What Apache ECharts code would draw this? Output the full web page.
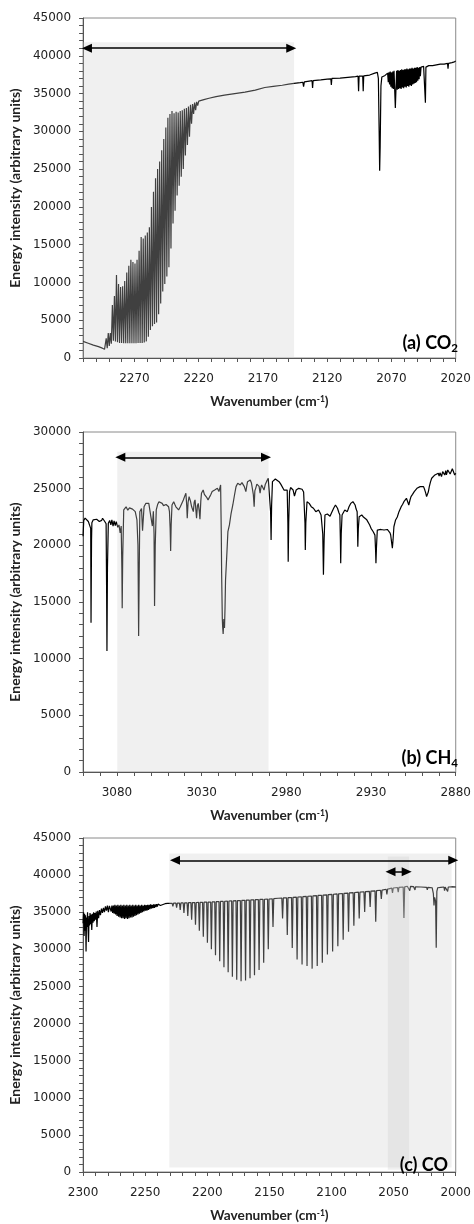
<!DOCTYPE html>
<html><head><meta charset="utf-8">
<script src="https://cdn.jsdelivr.net/npm/echarts@6/dist/echarts.min.js"></script>
<style>html,body{margin:0;padding:0;background:#fff}#c{width:474px;height:1224px}</style>
</head><body><div id="c"></div>
<script>
// ---------- (a) CO2 spectrum [wavenumber, intensity] ----------
const co2Spectrum = [
[2310,2200],[2306,1950],[2302,1700],[2298,1500],[2295,1300],[2293.3,1150],
[2292.0,2600],[2291.2,1300],[2290.4,3300],[2289.6,1600],[2288.8,3300],[2288.0,1900],
[2287.2,7000],[2286.4,2300],[2285.6,8200],[2284.8,2200],[2284.0,11000],[2283.2,2100],
[2282.4,9800],[2281.6,2000],[2280.8,9400],[2280.0,2000],[2279.2,9500],[2278.4,1950],
[2277.6,10200],[2276.8,1950],[2276.0,11300],[2275.2,1950],[2274.4,12200],[2273.6,1950],
[2272.8,13000],[2272.0,1950],[2271.2,12700],[2270.4,1950],[2269.6,12500],[2268.8,1950],
[2268.0,13000],[2267.2,2000],[2266.4,14200],[2265.6,2000],[2264.8,16000],[2264.0,2000],
[2263.2,15800],[2262.4,2050],[2261.6,16200],[2260.8,2200],[2260.0,16600],[2259.2,2800],
[2258.4,17300],[2257.6,3700],[2256.8,20000],[2256.0,4200],[2255.2,22000],[2254.4,4500],
[2253.6,23800],[2252.8,4700],[2252.0,25000],[2251.2,5800],[2250.4,26000],[2249.6,7200],
[2248.8,27500],[2248.0,8800],[2247.2,29000],[2246.4,9800],[2245.6,30500],[2244.8,10800],
[2244.0,31800],[2243.2,12000],[2242.4,32300],[2241.6,14500],[2240.8,32700],[2240.0,17800],
[2239.2,32400],[2238.4,19500],[2237.6,32600],[2236.8,21500],[2236.0,32500],[2235.2,22800],
[2234.4,32700],[2233.6,24000],[2232.8,32800],[2232.0,25000],[2231.2,33000],[2230.4,26800],
[2229.6,33100],[2228.8,28200],[2228.0,33300],[2227.2,29300],[2226.4,33500],[2225.6,31000],
[2224.8,33600],[2224.0,32300],[2223.2,33800],[2222.4,32800],[2221.6,33900],[2220.8,33400],
[2220.0,34000],[2216,34200],[2212,34380],[2206.5,34600],[2200,34800],[2192,35000],[2184,35200],
[2176,35450],[2168.6,35800],[2162,35950],[2155,36100],[2150,36250],[2145.8,36350],[2141,36450],
[2139,36500],[2138.4,35900],[2137.8,36550],[2134,36650],[2131.8,36700],[2131.4,35750],[2131.0,36700],
[2125,36800],[2120,36900],[2117.2,36950],[2116.8,36150],[2116.4,37000],[2110,37050],[2104,37150],
[2098,37250],[2096,37300],[2095.6,35300],[2095.2,37300],[2092.4,37320],[2092.0,35300],[2091.6,37350],
[2087,37450],[2083,37700],[2081,37800],[2080.2,37000],[2079.6,30000],[2079.2,24800],[2078.8,28000],
[2078.2,36000],[2077.5,37200],[2075,37400],[2073,37700],
[2072.5,36500],[2072,37800],[2071.5,36200],[2071,37900],[2070.5,35900],[2070,37800],[2069.5,35700],
[2069,37900],[2068.5,35600],[2068,38000],[2067.5,35500],[2067,33100],[2066.5,35600],[2066,38000],
[2065.5,35500],[2065,38100],[2064.5,35600],[2064,38000],[2063.5,35700],[2063,38100],[2062.5,35600],
[2062,38200],[2061.5,35800],[2061,38100],[2060.5,35700],[2060,38200],[2059.5,35900],[2059,38200],
[2058.5,35800],[2058,38300],[2057.5,36000],[2057,38200],[2056.5,35900],[2056,38300],[2055.5,36100],
[2055,38300],[2054.5,36000],[2054,38400],[2053.5,36200],[2053,38300],[2052.5,36300],[2052,38400],
[2051.5,36400],[2051,38400],[2050.5,36500],[2050,38500],[2049.5,36700],[2049,38400],[2048.5,36900],
[2048,38500],[2047.5,37300],[2047,38500],[2046,38400],[2045,38600],[2044,38500],[2043.6,33800],
[2043.2,38500],[2041,38700],[2038,38700],[2035,38800],[2032,38900],[2029,38900],[2026.4,39000],
[2026,38300],[2025.6,39000],[2023,39100],[2021,39200],[2020,39300]
];

// ---------- (b) CH4 spectrum ----------
const ch4Spectrum = [
[3100,20800],[3099.6,22200],[3098.8,22400],[3097.9,22350],[3096.9,22100],[3095.9,22240],[3095.5,21500],
[3095.3,13170],[3095.0,20500],[3094.8,22000],[3094.0,22250],[3093.0,22150],[3092.0,22300],[3091.1,22390],
[3090.4,22100],[3089.7,21950],[3089.0,22200],[3088.5,22390],[3087.8,22250],[3087.2,22100],[3086.4,21900],
[3086.1,16000],[3085.9,10680],[3085.6,18000],[3085.1,21950],[3084.3,22200],[3083.6,21800],[3083.0,22240],
[3082.3,21700],[3081.7,22150],[3081.0,21750],[3080.4,22100],[3079.5,21590],[3078.8,21800],[3078.1,21090],
[3077.5,21700],[3077.1,18000],[3076.9,14440],[3076.6,19000],[3076.0,23120],[3075.2,23250],[3074.6,23400],
[3073.6,23100],[3072.6,23300],[3071.5,23450],[3070.8,23200],[3069.9,23300],[3069.2,22970],[3068.2,22240],
[3067.6,20000],[3067.2,12000],[3066.9,17000],[3066.5,22970],[3065.5,23250],[3064.9,21290],[3064.0,23400],
[3063.0,23700],[3062.0,23850],[3061.2,23700],[3060.6,23560],[3059.1,21700],[3058.5,23000],[3058.1,21000],
[3057.8,14650],[3057.4,20000],[3056.8,23120],[3056.0,23600],[3055.2,23850],[3054.2,23700],[3053.3,23700],
[3052.5,23500],[3051.7,23400],[3051.0,23600],[3050.4,23700],[3049.5,23400],[3049.0,22970],[3048.6,21500],
[3048.3,19500],[3048.0,21800],[3047.5,23560],[3046.5,23850],[3045.8,23600],[3045.2,23400],[3044.4,23300],
[3043.6,23120],[3042.6,23400],[3041.7,23560],[3040.8,24000],[3040.1,24300],[3039.3,24600],[3038.8,23500],
[3038.5,22390],[3038.0,23800],[3037.4,24300],[3036.6,23900],[3035.9,23400],[3034.9,22970],[3034.4,23800],
[3033.9,24010],[3033.0,22390],[3032.5,23500],[3032.0,23700],[3031.4,23000],[3031.0,22300],[3030.5,23900],
[3030.1,24600],[3029.1,24880],[3028.4,24500],[3027.7,24450],[3026.9,24200],[3026.2,24010],[3025.2,24300],
[3024.5,24500],[3023.8,24740],[3023.0,24800],[3022.3,24880],[3021.5,24950],[3020.7,25030],[3019.8,24740],
[3019.2,25100],[3018.8,25330],[3018.4,21000],[3018.2,17530],[3017.8,13500],[3017.6,12820],[3017.3,12180],
[3016.9,13500],[3016.5,12700],[3016.2,14500],[3015.9,16940],[3015.1,19300],[3014.5,21200],[3013.6,21800],
[3012.6,22830],[3011.6,23560],[3010.6,24440],[3009.7,25180],[3008.7,25470],[3007.9,25300],[3007.2,25330],
[3006.2,25530],[3005.5,25400],[3004.8,25180],[3003.9,24740],[3003.3,25300],[3002.9,25620],[3002.1,25700],
[3001.3,25770],[3000.6,25500],[3000.0,25330],[2999.5,24500],[2999.0,23410],[2998.6,24800],[2998.1,25030],
[2997.4,25400],[2996.7,25470],[2996.1,25200],[2995.5,24600],[2995.0,25100],[2994.6,25330],[2993.9,25200],
[2993.2,24880],[2992.4,25400],[2991.7,25620],[2990.7,25920],[2990.2,25850],[2989.7,25770],[2989.3,23000],
[2989.0,20470],[2988.7,23500],[2988.2,25620],[2987.3,25700],[2986.5,25850],[2985.4,25700],[2984.3,25620],
[2983.3,25400],[2982.4,25330],[2981.4,24880],[2980.4,25030],[2979.5,24880],[2979.1,22000],[2978.9,18560],
[2978.6,22000],[2978.1,24740],[2977.5,25100],[2976.9,25270],[2976.0,24880],[2975.2,24350],[2974.2,24880],
[2973.5,25000],[2972.7,25030],[2971.7,24950],[2970.7,24950],[2969.8,24700],[2969.4,24600],[2969.0,22000],
[2968.8,19590],[2968.5,22000],[2967.8,23850],[2966.5,23700],[2965.3,23410],[2964.0,23270],[2962.6,22970],
[2961.8,23000],[2961.0,23120],[2960.2,22900],[2959.5,22680],[2958.5,21000],[2958.1,17400],[2957.7,20500],
[2957.2,22680],[2956.5,22800],[2955.8,22760],[2955.0,22600],[2954.2,22560],[2953.5,22800],[2952.9,22970],
[2952.0,23300],[2951.0,23560],[2950.4,23500],[2949.8,23270],[2949.0,22900],[2948.4,22680],[2948.1,20500],
[2947.9,18420],[2947.6,21000],[2947.1,22680],[2946.3,22900],[2945.5,23120],[2944.8,23000],[2944.0,22970],
[2943.0,23400],[2942.0,23700],[2940.7,23850],[2939.4,23560],[2938.8,23200],[2938.2,22970],[2938.0,21500],
[2937.8,19880],[2937.5,21500],[2937.0,22530],[2936.2,22600],[2935.5,22680],[2934.5,22500],[2933.5,22390],
[2932.5,22250],[2931.6,22100],[2930.8,21800],[2930.0,21500],[2928.7,21200],[2927.7,20900],[2927.3,19500],
[2927.1,18420],[2926.8,19800],[2926.3,21350],[2925.2,21500],[2924.2,21400],[2923.3,21420],[2922.3,21350],
[2921.3,21500],[2920.4,21400],[2919.4,21350],[2918.8,21100],[2918.4,20910],[2917.8,20200],[2917.4,19740],
[2917.0,20500],[2916.5,21640],[2915.5,22240],[2914.5,22500],[2913.5,22970],[2912.2,23410],[2911.4,23600],
[2910.6,23850],[2909.8,24000],[2909.1,24150],[2908.3,24000],[2907.7,23560],[2907.0,24000],[2906.4,24300],
[2905.5,24500],[2904.5,24740],[2903.7,24900],[2902.9,25030],[2902.0,25100],[2901.0,25180],[2900.0,25150],
[2899.0,25180],[2898.3,24900],[2897.7,24600],[2897.2,24300],[2896.7,24150],[2896.2,24700],[2895.6,25180],
[2894.9,25600],[2894.2,25920],[2893.3,26050],[2892.3,26210],[2891.3,26300],[2890.3,26360],[2889.8,26100],
[2889.3,26400],[2888.4,26070],[2887.7,26500],[2887.0,26420],[2886.5,26200],[2885.9,26600],[2885.5,26210],
[2884.7,26650],[2883.9,26650],[2883.3,26300],[2882.6,26270],[2882.0,26750],[2881.2,26800],[2880.6,26200],
[2880.0,26360]
];

// ---------- (c) CO spectrum ----------
const coSpectrum = [
[2300,33500],[2299.6,35000],[2299.2,31800],[2298.8,34800],[2298.4,32500],[2298.0,34600],[2297.6,29700],
[2297.2,34300],[2296.8,33000],[2296.4,35000],[2296.0,32800],[2295.6,31000],[2295.2,34500],[2294.8,33200],
[2294.4,34900],[2294.0,33400],[2293.5,34700],[2293.0,32600],[2292.5,34800],[2292.0,33600],[2291.5,35000],
[2291.0,33800],[2290.5,34900],[2290.0,34000],[2289.4,35100],[2288.8,33000],[2288.2,35200],[2287.5,34200],
[2286.8,35300],[2286.0,34600],[2285.2,35500],[2284.4,34900],[2283.6,35600],[2282.8,35000],[2282.0,35800],
[2281.2,35200],[2280.4,35900],[2279.6,35000],[2278.8,35850],
[2278,35800],[2277.4,35100],[2276.8,35900],[2276.2,34900],[2275.6,35900],[2275,34800],[2274.4,36000],
[2273.8,34700],[2273.2,35900],[2272.6,34500],[2272,36000],[2271.4,34400],[2270.8,35900],[2270.2,34300],
[2269.6,36000],[2269,34200],[2268.4,35900],[2267.8,34200],[2267.2,36000],[2266.6,34100],[2266,35900],
[2265.4,34200],[2264.8,36000],[2264.2,34100],[2263.6,35900],[2263,34200],[2262.4,36000],[2261.8,34300],
[2261.2,35900],[2260.6,34300],[2260,36000],[2259.4,34400],[2258.8,35900],[2258.2,34500],[2257.6,36000],
[2257,34600],[2256.4,35900],[2255.8,34700],[2255.2,36000],[2254.6,34800],[2254,35900],[2253.4,34900],
[2252.8,36000],[2252.2,35000],[2251.6,35900],[2251,35100],[2250.4,36000],[2249.8,35200],[2249.2,35950],
[2248.6,35200],[2248,36000],[2247.4,35300],[2246.8,36000],[2246.2,35400],[2245.6,36050],[2245,35500],
[2244.4,36000],[2243.8,35550],[2243.2,36050],[2242.6,35600],[2242,36050],[2241.4,35700],[2240.8,36100],
[2240.2,35750],[2239.6,36100],[2239,35850],[2238.4,36100],[2237.8,35900],[2237,36100],[2234,36150],[2232,36200],
[2231.2,36200],[2230.6,35950],[2230.0,36200],[2228.3,36200],[2227.7,35800],[2227.1,36220],
[2225.3,36220],[2224.7,35600],[2224.1,36230],[2222.4,36240],[2221.8,35300],[2221.2,36250],
[2219.4,36250],[2218.8,34900],[2218.2,36260],[2216.3,36270],[2215.7,34500],[2215.1,36280],
[2213.2,36290],[2212.6,34000],[2212.0,36300],[2210.1,36300],[2209.5,33300],[2208.9,36310],
[2207.0,36320],[2206.4,32500],[2205.8,36330],[2203.8,36340],[2203.2,31700],[2202.6,36350],
[2200.5,36360],[2199.9,30900],[2199.3,36370],[2197.3,36380],[2196.7,30000],[2196.1,36390],
[2194.0,36400],[2193.4,29200],[2192.8,36420],[2190.6,36430],[2190.0,28400],[2189.4,36450],
[2187.2,36460],[2186.6,27600],[2186.0,36480],[2183.8,36490],[2183.2,26900],[2182.6,36510],
[2180.4,36520],[2179.8,26300],[2179.2,36540],[2176.9,36550],[2176.3,25900],[2175.7,36570],
[2173.4,36580],[2172.8,25700],[2172.2,36600],[2169.8,36610],[2169.2,25800],[2168.6,36630],
[2166.2,36640],[2165.6,26100],[2165.0,36660],[2162.6,36670],[2162.0,26500],[2161.4,36690],
[2158.9,36700],[2158.3,27200],[2157.7,36720],[2155.2,36730],[2154.6,28200],[2154.0,36750],
[2151.5,36760],[2150.9,30000],[2150.3,36780],[2147.7,36800],[2147.1,33000],[2146.5,36820],
[2143,36880],
[2140.0,36900],[2139.4,34150],[2138.8,36920],[2136.2,36940],[2135.6,31940],[2135.0,36960],
[2132.2,36980],[2131.6,30180],[2131.0,37000],[2128.3,37030],[2127.7,28630],[2127.1,37050],
[2124.3,37080],[2123.7,27970],[2123.1,37100],[2120.3,37130],[2119.7,27750],[2119.1,37150],
[2116.2,37180],[2115.6,27400],[2115.0,37200],[2112.1,37240],[2111.5,27750],[2110.9,37260],
[2108.0,37290],[2107.4,28190],[2106.8,37310],[2103.9,37350],[2103.3,29290],[2102.7,37370],
[2099.7,37400],[2099.1,29700],[2098.5,37420],[2095.5,37460],[2094.9,30400],[2094.3,37480],
[2091.2,37520],[2090.6,31280],[2090.0,37540],[2086.9,37580],[2086.3,32380],[2085.7,37600],
[2082.6,37640],[2082.0,33180],[2081.4,37660],[2078.3,37700],[2077.7,34150],[2077.1,37720],
[2073.9,37760],[2073.3,35030],[2072.7,37780],[2069.5,37820],[2068.9,35700],[2068.3,37840],
[2065.0,37880],[2064.4,33710],[2063.8,37900],[2060.5,37960],[2059.9,36790],[2059.3,37980],
[2056.0,38100],[2055.4,37400],[2054.8,38120],[2051.5,38250],[2050.9,37600],[2050.3,38260],
[2046.9,38330],[2046.3,37700],[2045.7,38350],[2042.3,38400],[2041.7,34240],[2041.1,38420],
[2039,38500],[2037.6,38480],[2037.0,37900],[2036.4,38470],[2034,38450],[2033.2,38400],[2032.8,38000],
[2032.4,38420],[2028,38400],[2023.4,38350],[2022.9,38000],[2022.4,38350],[2019,38300],[2018,37500],
[2017.5,35900],[2017,37000],[2016.2,36500],[2015.7,30200],[2015.2,37800],[2014.5,38300],[2012,38350],
[2009.5,38400],[2009.0,37900],[2008.5,38400],[2007,38350],[2006.5,37800],[2006,38400],[2003,38420],
[2000,38400]
];

// ---------- axis ranges & tick labels ----------
const co2Range = [2020, 2310];
const ch4Range = [2880, 3100];
const coRange  = [2000, 2300];
const co2XLabels = [2020, 2070, 2120, 2170, 2220, 2270];
const ch4XLabels = [2880, 2930, 2980, 3030, 3080];
const coXLabels  = [2000, 2050, 2100, 2150, 2200, 2250, 2300];
const co2YMax = 45000, ch4YMax = 30000, coYMax = 45000;
const yLabelStep = 5000;

// ---------- shaded windows [[x1,y1],[x2,y2]] and arrows ----------
const co2Bands = [[[2310, 0], [2145.8, 41800]]];
const ch4Bands = [[[3079.8, 0], [2990.5, 28260]]];
const coBands  = [[[2230.6, 620], [2003.3, 42900]], [[2054.7, 300], [2037.6, 42500]]];
const co2Arrows = [[[2307, 41000], [2148, 41000]]];
const ch4Arrows = [[[3078, 27770], [2992, 27770]]];
const coArrows  = [[[2226, 42000], [2002, 42000]], [[2052.5, 40460], [2039.5, 40460]]];

const panelLabels = ['(a) CO{sub|2}', '(b) CH{sub|4}', '(c) CO'];

const TICK_FONT = 'DejaVu Sans';
const TITLE_FONT = 'Lato';
const gridTops = [18, 432, 838];

const chart = echarts.init(document.getElementById('c'), null, {renderer: 'canvas'});

function xAxisFor(i, range, labels) {
  return {
    type: 'value', gridIndex: i, min: range[0], max: range[1], interval: 10, inverse: true,
    axisLine: {show: true, lineStyle: {color: '#555', width: 1}},
    axisTick: {show: true, length: 4, lineStyle: {color: '#555'}},
    splitLine: {show: false},
    axisLabel: {
      margin: 15, fontSize: 12, fontFamily: TICK_FONT, color: '#222',
      formatter: v => labels.includes(Math.round(v)) ? String(Math.round(v)) : ''
    },
    name: 'Wavenumber (cm{sup|-1})', nameLocation: 'middle', nameGap: 37,
    nameTextStyle: {
      fontFamily: TITLE_FONT, fontWeight: 'bold', fontSize: 13.7, color: '#222',
      rich: {sup: {fontFamily: TITLE_FONT, fontWeight: 'bold', fontSize: 8.5, color: '#222', verticalAlign: 'top'}}
    }
  };
}
function yAxisFor(i, max) {
  return {
    type: 'value', gridIndex: i, min: 0, max: max, interval: 1000,
    axisLine: {show: true, lineStyle: {color: '#555', width: 1}},
    axisTick: {show: true, length: 4, lineStyle: {color: '#555'}},
    splitLine: {show: false},
    axisLabel: {
      margin: 12, fontSize: 12, fontFamily: TICK_FONT, color: '#222',
      formatter: v => (Math.round(v) % yLabelStep === 0) ? String(Math.round(v)) : ''
    },
    name: 'Energy intensity (arbitrary units)', nameLocation: 'middle', nameGap: 49,
    nameTextStyle: {fontFamily: TITLE_FONT, fontWeight: 'bold', fontSize: 14, color: '#222'}
  };
}
function seriesFor(i, data, bands, arrows) {
  return {
    type: 'line', xAxisIndex: i, yAxisIndex: i, data: data, showSymbol: false, symbol: 'none',
    silent: true, animation: false, z: 2,
    lineStyle: {color: '#000', width: 1.2},
    markArea: {
      silent: true, z: 3, animation: false,
      itemStyle: {color: 'rgba(206,206,206,0.31)', borderWidth: 0},
      label: {show: false},
      data: bands.map(b => [{coord: b[0]}, {coord: b[1]}])
    },
    markLine: {
      silent: true, z: 5, animation: false,
      symbol: ['triangle', 'triangle'], symbolSize: [9, 10],
      lineStyle: {color: '#000', width: 1.5, type: 'solid'},
      label: {show: false},
      data: arrows.map(a => [{coord: a[0]}, {coord: a[1]}])
    }
  };
}

const option = {
  backgroundColor: '#fff',
  animation: false,
  grid: gridTops.map(t => ({left: 80, width: 380, top: t, height: 340, show: true,
    borderColor: '#8a8a8a', borderWidth: 1, backgroundColor: 'transparent', containLabel: false})),
  xAxis: [xAxisFor(0, co2Range, co2XLabels), xAxisFor(1, ch4Range, ch4XLabels), xAxisFor(2, coRange, coXLabels)],
  yAxis: [yAxisFor(0, co2YMax), yAxisFor(1, ch4YMax), yAxisFor(2, coYMax)],
  title: panelLabels.map((t, i) => ({
    text: t, right: i === 2 ? 26 : 16, top: [333, 748, 1155][i], padding: 0,
    textStyle: {
      fontFamily: TITLE_FONT, fontWeight: 'bold', fontSize: 18, color: '#000', lineHeight: 21,
      rich: {sub: {fontFamily: TITLE_FONT, fontWeight: 'bold', fontSize: 11.5, color: '#000', verticalAlign: 'bottom', lineHeight: 12}}
    }
  })),
  series: [
    seriesFor(0, co2Spectrum, co2Bands, co2Arrows),
    seriesFor(1, ch4Spectrum, ch4Bands, ch4Arrows),
    seriesFor(2, coSpectrum, coBands, coArrows)
  ]
};
chart.setOption(option);
</script>
</body></html>
